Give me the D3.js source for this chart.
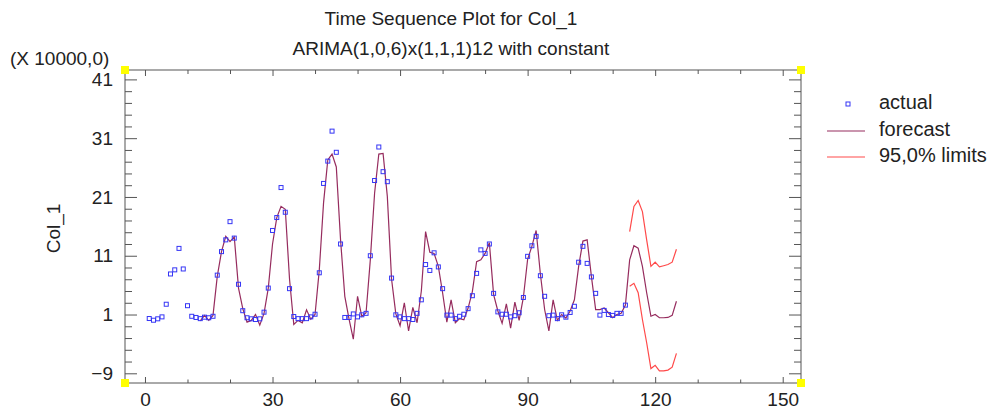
<!DOCTYPE html>
<html>
<head>
<meta charset="utf-8">
<script src="https://cdn.jsdelivr.net/npm/d3@7"></script>
<style>
  body { margin: 0; background: #fff; }
  text { font-family: "Liberation Sans", Arial, sans-serif; fill: #222; }
</style>
</head>
<body>
<div id="chart"></div>
<script>
// observed series, t = 1..113
var actual = [0.32, 0.03, 0.27, 0.6, 2.75, 7.9, 8.6, 12.25, 8.75, 2.5,
  0.7, 0.5, 0.3, 0.55, 0.45, 0.7, 7.7, 11.7, 13.7, 16.8,
  14.0, 6.15, 1.65, 0.45, 0.27, 0.15, 0.27, 1.4, 5.5, 15.3,
  17.5, 22.6, 18.4, 5.4, 0.66, 0.3, 0.3, 0.3, 0.6, 1.05,
  8.1, 23.3, 27.1, 32.2, 28.6, 13.0, 0.5, 0.5, 1.1, 0.6,
  0.95, 1.2, 11.0, 23.8, 29.5, 25.3, 23.6, 7.2, 0.95, 0.6,
  0.3, 0.3, 0.15, 1.2, 3.5, 9.5, 8.5, 11.5, 9.1, 5.4,
  0.9, 0.9, 0.3, 0.7, 1.05, 2.0, 4.2, 8.0, 12.0, 11.4,
  13.0, 4.6, 1.45, 1.05, 1.05, 0.6, 0.8, 1.3, 3.9, 10.9,
  12.7, 14.3, 7.6, 4.1, 0.8, 0.9, 0.3, 0.95, 0.55, 1.35,
  2.4, 9.9, 12.6, 9.7, 7.4, 4.6, 0.9, 1.7, 1.0, 0.85,
  1.2, 1.2, 2.6];

// fitted + forecast, t = 13..125
var forecastStart = 13;
var forecast = [-0.1, 0.85, 0.0, 0.85, 7.5, 11.7, 14.3, 13.4, 14.2, 5.5,
  2.0, -0.3, 0.0, 1.0, -0.8, 1.2, 5.5, 13.0, 17.5, 19.4,
  18.9, 7.0, -0.7, 0.0, -0.4, 1.8, 0.2, 1.0, 8.6, 20.0,
  27.3, 28.3, 26.1, 13.7, 4.1, 0.2, -3.2, 4.1, 0.7, 1.3,
  10.3, 21.6, 28.3, 28.4, 21.1, 7.0, 1.1, -0.9, 3.0, -1.8,
  2.2, -0.4, 5.0, 15.1, 11.6, 11.4, 9.2, 4.7, -0.3, 3.5,
  -0.4, 0.3, 0.1, 2.1, 4.9, 10.0, 10.3, 11.4, 13.2, 4.4,
  1.6, -0.5, 2.8, -1.3, 3.1, 0.0, 3.9, 10.4, 12.6, 15.3,
  7.9, 1.85, -1.8, 3.5, 0.0, 1.0, 0.4, 1.6, 3.5, 9.2,
  13.5, 13.7, 7.5, 1.85, 1.85, 2.1, 1.3, 0.45, 1.0, 1.2,
  2.6, 10.3, 12.7, 12.3, 9.2, 4.7, 0.7, 1.0, 0.45, 0.45,
  0.5, 0.85, 3.25];

// 95% limits, t = 114..125
var limitStart = 114;
var upper = [15.1, 19.4, 20.4, 18.5, 13.7, 9.2, 9.9, 9.1, 9.3, 9.5, 9.9, 12.1];
var lower = [5.8, 6.3, 4.7, 0.15, -3.8, -8.2, -7.65, -8.6, -8.6, -8.45, -7.95, -5.6];

var xMajor = [0, 30, 60, 90, 120, 150];
var xMinor = d3.range(0, 151, 10);
var yMajor = [-9, 1, 11, 21, 31, 41];
var yMinor = d3.range(-9, 42, 2);

var legendLabels = ["actual", "forecast", "95,0% limits"];

var W = 993, H = 412;
var pLeft = 125, pRight = 801, pTop = 70, pBottom = 383;

var svg = d3.select("#chart").append("svg").attr("width", W).attr("height", H);

var x = d3.scaleLinear().domain([-4.7, 154.3]).range([pLeft, pRight]);
var y = d3.scaleLinear().domain([-10.65, 42.6]).range([pBottom, pTop]);

var frameColor = "#555";
var fcColor = "#962c5e";
var limColor = "#ff4a4a";
var ptColor = "#3535f5";

// titles
svg.append("text").attr("x", 451).attr("y", 25).attr("text-anchor", "middle")
    .style("font-size", "19px").text("Time Sequence Plot for Col_1");
svg.append("text").attr("x", 451).attr("y", 55).attr("text-anchor", "middle")
    .style("font-size", "19px").text("ARIMA(1,0,6)x(1,1,1)12 with constant");
svg.append("text").attr("x", 10).attr("y", 65)
    .style("font-size", "19px").text("(X 10000,0)");
svg.append("text").attr("transform", "translate(60," + ((pTop + pBottom) / 2 + 2) + ")rotate(-90)")
    .attr("text-anchor", "middle").style("font-size", "19px").text("Col_1");

function styleAxis(g) {
    g.select(".domain").remove();
    g.selectAll("line").attr("stroke", frameColor);
    g.selectAll("text").attr("font-family", "Liberation Sans, Arial, sans-serif")
        .attr("font-size", 19).attr("fill", "#222");
}

var yMinorOnly = yMinor.filter(v => yMajor.indexOf(v) < 0);
var xMinorOnly = xMinor.filter(v => xMajor.indexOf(v) < 0);

// left axis
svg.append("g").attr("transform", "translate(" + pLeft + ",0)")
    .call(d3.axisLeft(y).tickValues(yMinorOnly).tickSize(-7).tickFormat(""))
    .call(styleAxis);
svg.append("g").attr("transform", "translate(" + pLeft + ",0)")
    .call(d3.axisLeft(y).tickValues(yMajor).tickSize(-12).tickPadding(12).tickFormat(d3.format("d")))
    .call(styleAxis);
// right axis (ticks only)
svg.append("g").attr("transform", "translate(" + pRight + ",0)")
    .call(d3.axisRight(y).tickValues(yMinorOnly).tickSize(-7).tickFormat(""))
    .call(styleAxis);
svg.append("g").attr("transform", "translate(" + pRight + ",0)")
    .call(d3.axisRight(y).tickValues(yMajor).tickSize(-12).tickFormat(""))
    .call(styleAxis);
// bottom axis
svg.append("g").attr("transform", "translate(0," + pBottom + ")")
    .call(d3.axisBottom(x).tickValues(xMinorOnly).tickSize(-3.5).tickFormat(""))
    .call(styleAxis);
svg.append("g").attr("transform", "translate(0," + pBottom + ")")
    .call(d3.axisBottom(x).tickValues(xMajor).tickSize(-6).tickPadding(10).tickFormat(d3.format("d")))
    .call(styleAxis);
// top axis (ticks only)
svg.append("g").attr("transform", "translate(0," + pTop + ")")
    .call(d3.axisTop(x).tickValues(xMinorOnly).tickSize(-4).tickFormat(""))
    .call(styleAxis);
svg.append("g").attr("transform", "translate(0," + pTop + ")")
    .call(d3.axisTop(x).tickValues(xMajor).tickSize(-6).tickFormat(""))
    .call(styleAxis);

// frame
svg.append("rect").attr("x", pLeft).attr("y", pTop)
    .attr("width", pRight - pLeft).attr("height", pBottom - pTop)
    .attr("fill", "none").attr("stroke", frameColor).attr("stroke-width", 1);

// yellow corner handles
[[pLeft, pTop], [pRight, pTop], [pLeft, pBottom], [pRight, pBottom]].forEach(function (c) {
    svg.append("rect").attr("x", c[0] - 4).attr("y", c[1] - 4)
        .attr("width", 8).attr("height", 8).attr("fill", "#ffff00");
});

var line = d3.line().x(d => x(d.t)).y(d => y(d.v));

var fcData = forecast.map((v, i) => ({ t: forecastStart + i, v: v }));
var upData = upper.map((v, i) => ({ t: limitStart + i, v: v }));
var loData = lower.map((v, i) => ({ t: limitStart + i, v: v }));

svg.append("path").datum(upData).attr("d", line)
    .attr("fill", "none").attr("stroke", limColor).attr("stroke-width", 1.2);
svg.append("path").datum(loData).attr("d", line)
    .attr("fill", "none").attr("stroke", limColor).attr("stroke-width", 1.2);
svg.append("path").datum(fcData).attr("d", line)
    .attr("fill", "none").attr("stroke", fcColor).attr("stroke-width", 1.2);

// actual points
svg.append("g").selectAll("rect")
    .data(actual)
    .enter()
    .append("rect")
    .attr("x", (d, i) => x(i + 1) - 2)
    .attr("y", d => y(d) - 2)
    .attr("width", 4).attr("height", 4)
    .attr("fill", "none").attr("stroke", ptColor).attr("stroke-width", 1);

// legend
var lg = svg.append("g");
lg.append("rect").attr("x", 846).attr("y", 102).attr("width", 4).attr("height", 4)
    .attr("fill", "none").attr("stroke", ptColor).attr("stroke-width", 1);
lg.append("line").attr("x1", 827).attr("x2", 865).attr("y1", 131).attr("y2", 131)
    .attr("stroke", fcColor).attr("stroke-width", 1.2);
lg.append("line").attr("x1", 827).attr("x2", 865).attr("y1", 157).attr("y2", 157)
    .attr("stroke", limColor).attr("stroke-width", 1.2);
lg.selectAll("text.lbl").data(legendLabels).enter().append("text")
    .attr("class", "lbl")
    .attr("x", 879)
    .attr("y", (d, i) => 109 + i * 26.5)
    .style("font-size", "20px")
    .text(d => d);
</script>
</body>
</html>
